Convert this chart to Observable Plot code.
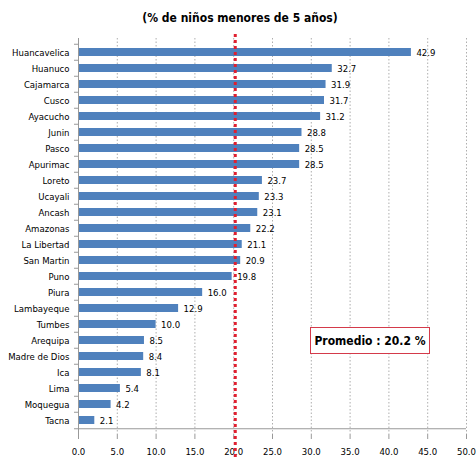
<!DOCTYPE html>
<html><head><meta charset="utf-8">
<script src="https://cdn.jsdelivr.net/npm/d3@7"></script>
<script src="https://cdn.jsdelivr.net/npm/@observablehq/plot@0.6"></script>
<style>
body{margin:0;background:#fff;font-family:"DejaVu Sans Condensed",sans-serif;}
#wrap{position:relative;width:476px;height:458px;}
#title{position:absolute;left:0;top:11px;width:476px;text-align:center;font-weight:bold;font-size:12px;font-family:"DejaVu Sans Condensed","Liberation Sans",sans-serif;color:#000;padding-left:2px;}
#chart{position:absolute;left:0;top:30px;}
#box{position:absolute;left:310px;top:327px;width:118px;height:25px;border:1.3px solid #d43a4a;font-weight:bold;font-size:12px;font-family:"DejaVu Sans Condensed","Liberation Sans",sans-serif;display:flex;align-items:center;justify-content:center;background:#fff;}
</style></head>
<body><div id="wrap"><div id="title">(% de niños menores de 5 años)</div><div id="chart"></div><div id="box">Promedio : 20.2 %</div></div>
<script>
const regions = ["Huancavelica","Huanuco","Cajamarca","Cusco","Ayacucho","Junin","Pasco","Apurimac","Loreto","Ucayali","Ancash","Amazonas","La Libertad","San Martin","Puno","Piura","Lambayeque","Tumbes","Arequipa","Madre de Dios","Ica","Lima","Moquegua","Tacna"];
const values = [42.9,32.7,31.9,31.7,31.2,28.8,28.5,28.5,23.7,23.3,23.1,22.2,21.1,20.9,19.8,16.0,12.9,10.0,8.5,8.4,8.1,5.4,4.2,2.1];
const xTicks = [0,5,10,15,20,25,30,35,40,45,50];
const average = 20.2;
const data = regions.map((r,i)=>({region:r, value:values[i]}));
const H = 428, MT = 8, MB = 24;
const half = (H - MT - MB) / regions.length / 2;
const chart = Plot.plot({
  width:476, height:H,
  marginLeft:78, marginRight:10, marginTop:MT, marginBottom:MB,
  style:{fontFamily:"'DejaVu Sans Condensed',sans-serif", fontSize:"9.5px", color:"#000", background:"transparent", overflow:"visible"},
  x:{domain:[0,50], ticks:xTicks, tickFormat:d=>d.toFixed(1)},
  y:{domain:regions, paddingInner:0.5, paddingOuter:0.25, label:null},
  marks:[
    Plot.ruleX(xTicks.slice(1), {stroke:"#999", strokeDasharray:"1.5,2", strokeWidth:0.8}),
    Plot.barX(data, {x:"value", y:"region", fill:"#4f81bd"}),
    Plot.text(data, {x:"value", y:"region", text:d=>d.value.toFixed(1), textAnchor:"start", dx:5, fill:"#000", fontSize:9.5}),
    Plot.ruleX([0], {stroke:"#999", strokeWidth:1}),
    Plot.ruleY(regions, {y:d=>d, x1:0, x2:0, dy:-half, insetLeft:-4, stroke:"#999", strokeWidth:1}),
    Plot.ruleY([regions[regions.length-1]], {y:d=>d, x1:0, x2:0, dy:half, insetLeft:-4, stroke:"#999", strokeWidth:1}),
    Plot.ruleY([regions[regions.length-1]], {stroke:"#999", strokeWidth:1, dy:half}),
    Plot.axisX({ticks:xTicks, tickFormat:d=>d.toFixed(1), tickSize:5, tickPadding:9, stroke:"#999", label:null, anchor:"bottom"}),
    Plot.axisY({tickSize:0, tickPadding:9, label:null}),
    Plot.ruleX([average], {stroke:"#e02030", strokeWidth:3, strokeDasharray:"3,3", insetBottom:-24, insetTop:-4}),
  ]
});
document.getElementById("chart").appendChild(chart);
</script></body></html>
